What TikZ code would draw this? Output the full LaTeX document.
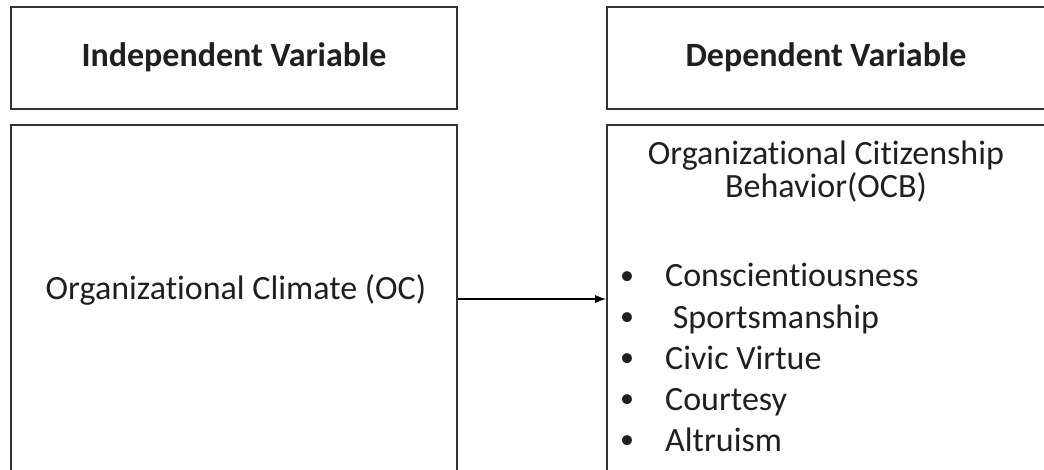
\documentclass[tikz,border=0pt]{standalone}
\usepackage{fontspec}
\setmainfont{Carlito}[Ligatures=NoCommon]
\usetikzlibrary{positioning,arrows.meta}

\newcommand{\blt}{\makebox[47pt][l]{\hspace{2pt}\raisebox{2.5pt}{\fontsize{28}{28}\selectfont •}}}

\tikzset{
  box/.style={draw=black!80, line width=1.6pt, rectangle, inner sep=0pt},
  txt/.style={font=\fontsize{34}{40}\selectfont, inner sep=0pt, text=black!88},
  item/.style={txt, anchor=base west},
}

\begin{document}
\begin{tikzpicture}[x=1pt,y=-1pt]
  \useasboundingbox (0,0) rectangle (1044,470);
  \clip (0,0) rectangle (1044,470);
  % headers
  \node[box, minimum width=446pt, minimum height=102pt] (ivhead) at (234,58) {};
  \node[box, minimum width=438pt, minimum height=102pt] (dvhead) at (826,58) {};
  \node[txt, anchor=base] (ivtitle) at (234,67) {\bfseries Independent Variable};
  \node[txt, anchor=base] (dvtitle) at (826,67) {\bfseries Dependent Variable};
  % main boxes
  \node[box, minimum width=446pt, minimum height=348pt] (ocbox) at (234,299) {};
  \node[box, minimum width=438pt, minimum height=348pt] (ocbbox) at (826,299) {};
  \node[txt, anchor=base] (oc) at (236,300) {Organizational Climate (OC)};
  \node[txt, anchor=base] (ocb1) at (826,165) {Organizational Citizenship};
  \node[txt, anchor=base] (ocb2) at (826,198) {Behavior(OCB)};
  % dimensions
  \node[item] (consc) at (618,287) {\blt Conscientiousness};
  \node[item] (sport) at (618,328) {\blt\ Sportsmanship};
  \node[item] (civic) at (618,369) {\blt Civic Virtue};
  \node[item] (court) at (618,410) {\blt Courtesy};
  \node[item] (altru) at (618,451) {\blt Altruism};
  \draw[-{Latex[length=11pt,width=8pt]}, line width=1.3pt] (ocbox.east) -- (ocbbox.west);
\end{tikzpicture}
\end{document}
